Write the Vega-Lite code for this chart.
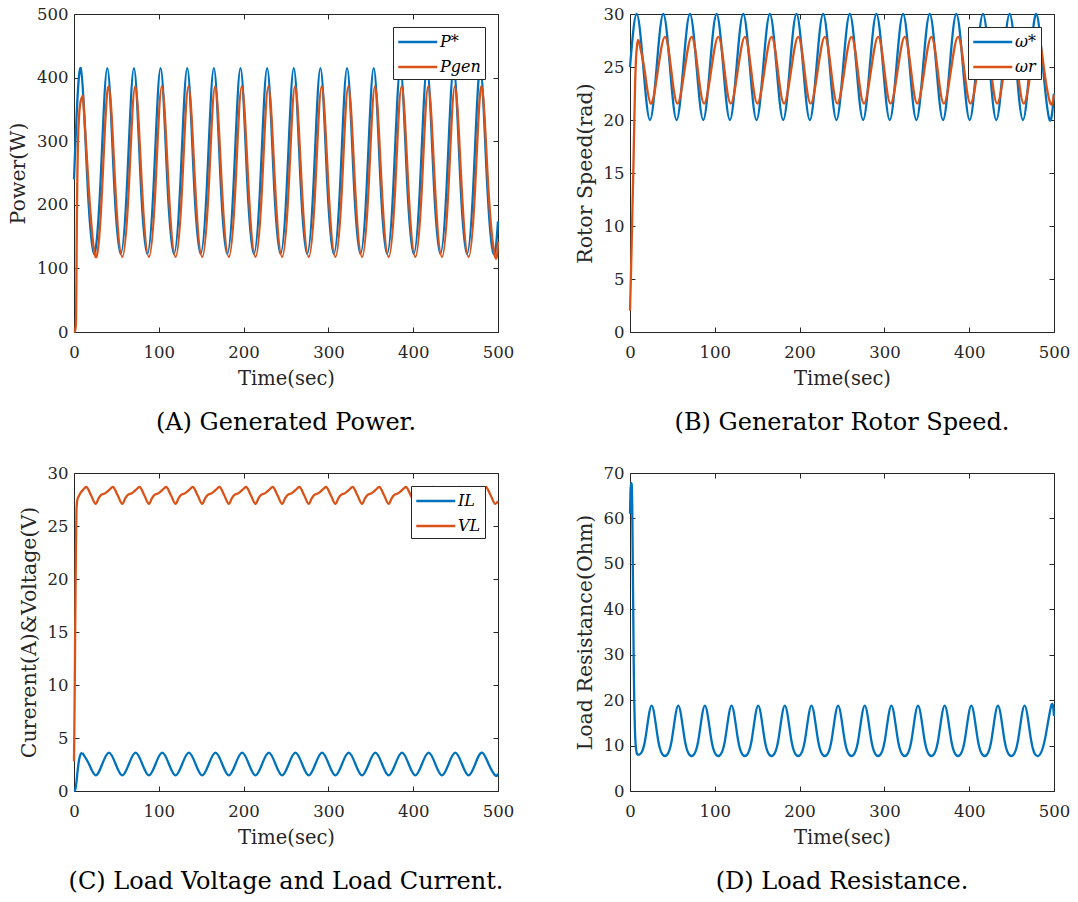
{
"$schema": "https://vega.github.io/schema/vega-lite/v6.json",
"padding": {"top": 6, "left": 8, "right": 4, "bottom": 5},
"datasets": {
"pstar": [{"t":0,"v":240},{"t":7.85,"v":415},{"t":15.71,"v":240},{"t":23.56,"v":123},{"t":31.42,"v":240},{"t":39.27,"v":415},{"t":47.12,"v":240},{"t":54.98,"v":123},{"t":62.83,"v":240},{"t":70.69,"v":415},{"t":78.54,"v":240},{"t":86.39,"v":123},{"t":94.25,"v":240},{"t":102.1,"v":415},{"t":109.96,"v":240},{"t":117.81,"v":123},{"t":125.66,"v":240},{"t":133.52,"v":415},{"t":141.37,"v":240},{"t":149.23,"v":123},{"t":157.08,"v":240},{"t":164.93,"v":415},{"t":172.79,"v":240},{"t":180.64,"v":123},{"t":188.5,"v":240},{"t":196.35,"v":415},{"t":204.2,"v":240},{"t":212.06,"v":123},{"t":219.91,"v":240},{"t":227.77,"v":415},{"t":235.62,"v":240},{"t":243.47,"v":123},{"t":251.33,"v":240},{"t":259.18,"v":415},{"t":267.04,"v":240},{"t":274.89,"v":123},{"t":282.74,"v":240},{"t":290.6,"v":415},{"t":298.45,"v":240},{"t":306.31,"v":123},{"t":314.16,"v":240},{"t":322.01,"v":415},{"t":329.87,"v":240},{"t":337.72,"v":123},{"t":345.58,"v":240},{"t":353.43,"v":415},{"t":361.28,"v":240},{"t":369.14,"v":123},{"t":376.99,"v":240},{"t":384.85,"v":415},{"t":392.7,"v":240},{"t":400.55,"v":123},{"t":408.41,"v":240},{"t":416.26,"v":415},{"t":424.12,"v":240},{"t":431.97,"v":123},{"t":439.82,"v":240},{"t":447.68,"v":415},{"t":455.53,"v":240},{"t":463.39,"v":123},{"t":471.24,"v":240},{"t":479.09,"v":415},{"t":486.95,"v":240},{"t":494.8,"v":123},{"t":500,"v":174}],
"pgen": [{"t":0,"v":0},{"t":1,"v":1},{"t":2,"v":8},{"t":2.6,"v":40},{"t":3,"v":110},{"t":3.5,"v":195},{"t":4,"v":250},{"t":4.7,"v":300},{"t":6,"v":340},{"t":8,"v":364},{"t":10.6,"v":372},{"t":17.43,"v":225},{"t":25.5,"v":118},{"t":33.14,"v":225},{"t":40.77,"v":386},{"t":48.85,"v":225},{"t":56.92,"v":118},{"t":64.56,"v":225},{"t":72.18,"v":386},{"t":80.26,"v":225},{"t":88.33,"v":118},{"t":95.97,"v":225},{"t":103.6,"v":386},{"t":111.68,"v":225},{"t":119.75,"v":118},{"t":127.39,"v":225},{"t":135.01,"v":386},{"t":143.09,"v":225},{"t":151.16,"v":118},{"t":158.8,"v":225},{"t":166.43,"v":386},{"t":174.51,"v":225},{"t":182.58,"v":118},{"t":190.22,"v":225},{"t":197.85,"v":386},{"t":205.93,"v":225},{"t":214.0,"v":118},{"t":221.64,"v":225},{"t":229.26,"v":386},{"t":237.34,"v":225},{"t":245.41,"v":118},{"t":253.05,"v":225},{"t":260.68,"v":386},{"t":268.76,"v":225},{"t":276.83,"v":118},{"t":284.47,"v":225},{"t":292.09,"v":386},{"t":300.17,"v":225},{"t":308.24,"v":118},{"t":315.88,"v":225},{"t":323.51,"v":386},{"t":331.59,"v":225},{"t":339.66,"v":118},{"t":347.3,"v":225},{"t":354.93,"v":386},{"t":363.01,"v":225},{"t":371.08,"v":118},{"t":378.72,"v":225},{"t":386.34,"v":386},{"t":394.42,"v":225},{"t":402.49,"v":118},{"t":410.13,"v":225},{"t":417.76,"v":386},{"t":425.84,"v":225},{"t":433.91,"v":118},{"t":441.55,"v":225},{"t":449.17,"v":386},{"t":457.25,"v":225},{"t":465.32,"v":118},{"t":472.96,"v":225},{"t":480.59,"v":386},{"t":488.67,"v":225},{"t":496.74,"v":118},{"t":500,"v":142}],
"wstar": [{"t":0,"v":25},{"t":7.85,"v":30},{"t":15.71,"v":25},{"t":23.56,"v":20},{"t":31.42,"v":25},{"t":39.27,"v":30},{"t":47.12,"v":25},{"t":54.98,"v":20},{"t":62.83,"v":25},{"t":70.69,"v":30},{"t":78.54,"v":25},{"t":86.39,"v":20},{"t":94.25,"v":25},{"t":102.1,"v":30},{"t":109.96,"v":25},{"t":117.81,"v":20},{"t":125.66,"v":25},{"t":133.52,"v":30},{"t":141.37,"v":25},{"t":149.23,"v":20},{"t":157.08,"v":25},{"t":164.93,"v":30},{"t":172.79,"v":25},{"t":180.64,"v":20},{"t":188.5,"v":25},{"t":196.35,"v":30},{"t":204.2,"v":25},{"t":212.06,"v":20},{"t":219.91,"v":25},{"t":227.77,"v":30},{"t":235.62,"v":25},{"t":243.47,"v":20},{"t":251.33,"v":25},{"t":259.18,"v":30},{"t":267.04,"v":25},{"t":274.89,"v":20},{"t":282.74,"v":25},{"t":290.6,"v":30},{"t":298.45,"v":25},{"t":306.31,"v":20},{"t":314.16,"v":25},{"t":322.01,"v":30},{"t":329.87,"v":25},{"t":337.72,"v":20},{"t":345.58,"v":25},{"t":353.43,"v":30},{"t":361.28,"v":25},{"t":369.14,"v":20},{"t":376.99,"v":25},{"t":384.85,"v":30},{"t":392.7,"v":25},{"t":400.55,"v":20},{"t":408.41,"v":25},{"t":416.26,"v":30},{"t":424.12,"v":25},{"t":431.97,"v":20},{"t":439.82,"v":25},{"t":447.68,"v":30},{"t":455.53,"v":25},{"t":463.39,"v":20},{"t":471.24,"v":25},{"t":479.09,"v":30},{"t":486.95,"v":25},{"t":494.8,"v":20},{"t":500,"v":22.5}],
"wr": [{"t":0,"v":2.0},{"t":1,"v":5.0},{"t":2,"v":8.5},{"t":3,"v":12.0},{"t":4,"v":15.5},{"t":5,"v":19.5},{"t":6,"v":23.3},{"t":7,"v":25.6},{"t":8,"v":26.8},{"t":9,"v":27.4},{"t":9.85,"v":27.6},{"t":17.21,"v":24.7},{"t":24.56,"v":21.55},{"t":32.91,"v":24.7},{"t":41.27,"v":27.85},{"t":48.63,"v":24.7},{"t":55.98,"v":21.55},{"t":64.33,"v":24.7},{"t":72.68,"v":27.85},{"t":80.04,"v":24.7},{"t":87.39,"v":21.55},{"t":95.74,"v":24.7},{"t":104.1,"v":27.85},{"t":111.46,"v":24.7},{"t":118.81,"v":21.55},{"t":127.16,"v":24.7},{"t":135.51,"v":27.85},{"t":142.87,"v":24.7},{"t":150.22,"v":21.55},{"t":158.57,"v":24.7},{"t":166.93,"v":27.85},{"t":174.29,"v":24.7},{"t":181.64,"v":21.55},{"t":189.99,"v":24.7},{"t":198.35,"v":27.85},{"t":205.71,"v":24.7},{"t":213.06,"v":21.55},{"t":221.41,"v":24.7},{"t":229.76,"v":27.85},{"t":237.12,"v":24.7},{"t":244.47,"v":21.55},{"t":252.82,"v":24.7},{"t":261.18,"v":27.85},{"t":268.54,"v":24.7},{"t":275.89,"v":21.55},{"t":284.24,"v":24.7},{"t":292.59,"v":27.85},{"t":299.95,"v":24.7},{"t":307.3,"v":21.55},{"t":315.65,"v":24.7},{"t":324.01,"v":27.85},{"t":331.37,"v":24.7},{"t":338.72,"v":21.55},{"t":347.07,"v":24.7},{"t":355.43,"v":27.85},{"t":362.79,"v":24.7},{"t":370.14,"v":21.55},{"t":378.49,"v":24.7},{"t":386.84,"v":27.85},{"t":394.2,"v":24.7},{"t":401.55,"v":21.55},{"t":409.9,"v":24.7},{"t":418.26,"v":27.85},{"t":425.62,"v":24.7},{"t":432.97,"v":21.55},{"t":441.32,"v":24.7},{"t":449.67,"v":27.85},{"t":457.03,"v":24.7},{"t":464.38,"v":21.55},{"t":472.73,"v":24.7},{"t":481.09,"v":27.85},{"t":488.45,"v":24.7},{"t":495.8,"v":21.55},{"t":500,"v":22.4}],
"il": [{"t":0,"v":0},{"t":1,"v":0.05},{"t":2,"v":0.3},{"t":3,"v":0.9},{"t":4,"v":1.7},{"t":5,"v":2.4},{"t":6,"v":2.95},{"t":7,"v":3.3},{"t":8,"v":3.5},{"t":9.8,"v":3.6},{"t":17.65,"v":2.55},{"t":25.5,"v":1.48},{"t":33.36,"v":2.55},{"t":41.22,"v":3.62},{"t":49.07,"v":2.55},{"t":56.92,"v":1.48},{"t":64.78,"v":2.55},{"t":72.63,"v":3.62},{"t":80.48,"v":2.55},{"t":88.33,"v":1.48},{"t":96.19,"v":2.55},{"t":104.05,"v":3.62},{"t":111.9,"v":2.55},{"t":119.75,"v":1.48},{"t":127.61,"v":2.55},{"t":135.46,"v":3.62},{"t":143.31,"v":2.55},{"t":151.16,"v":1.48},{"t":159.02,"v":2.55},{"t":166.88,"v":3.62},{"t":174.73,"v":2.55},{"t":182.58,"v":1.48},{"t":190.44,"v":2.55},{"t":198.3,"v":3.62},{"t":206.15,"v":2.55},{"t":214.0,"v":1.48},{"t":221.86,"v":2.55},{"t":229.71,"v":3.62},{"t":237.56,"v":2.55},{"t":245.41,"v":1.48},{"t":253.27,"v":2.55},{"t":261.13,"v":3.62},{"t":268.98,"v":2.55},{"t":276.83,"v":1.48},{"t":284.69,"v":2.55},{"t":292.54,"v":3.62},{"t":300.39,"v":2.55},{"t":308.24,"v":1.48},{"t":316.1,"v":2.55},{"t":323.96,"v":3.62},{"t":331.81,"v":2.55},{"t":339.66,"v":1.48},{"t":347.52,"v":2.55},{"t":355.38,"v":3.62},{"t":363.23,"v":2.55},{"t":371.08,"v":1.48},{"t":378.94,"v":2.55},{"t":386.79,"v":3.62},{"t":394.64,"v":2.55},{"t":402.49,"v":1.48},{"t":410.35,"v":2.55},{"t":418.21,"v":3.62},{"t":426.06,"v":2.55},{"t":433.91,"v":1.48},{"t":441.77,"v":2.55},{"t":449.62,"v":3.62},{"t":457.47,"v":2.55},{"t":465.32,"v":1.48},{"t":473.18,"v":2.55},{"t":481.04,"v":3.62},{"t":488.89,"v":2.55},{"t":496.74,"v":1.48},{"t":500,"v":1.65}],
"vl": [{"t":0,"v":2.8},{"t":0.5,"v":6.5},{"t":1,"v":11},{"t":1.5,"v":16},{"t":2,"v":20.5},{"t":2.5,"v":24.3},{"t":3,"v":26.6},{"t":4,"v":27.5},{"t":5.9,"v":27.85},{"t":7.9,"v":28.15},{"t":11,"v":28.45},{"t":14.5,"v":28.68},{"t":20.1,"v":27.9},
{"t":25.6,"v":27.08},{"t":29.0,"v":27.6},{"t":32.5,"v":27.95},{"t":37.0,"v":28.1},{"t":41.5,"v":28.4},{"t":45.9,"v":28.68},{"t":51.5,"v":27.9},
{"t":57.02,"v":27.08},{"t":60.42,"v":27.6},{"t":63.92,"v":27.95},{"t":68.42,"v":28.1},{"t":72.92,"v":28.4},{"t":77.32,"v":28.68},{"t":82.92,"v":27.9},
{"t":88.43,"v":27.08},{"t":91.83,"v":27.6},{"t":95.33,"v":27.95},{"t":99.83,"v":28.1},{"t":104.33,"v":28.4},{"t":108.73,"v":28.68},{"t":114.33,"v":27.9},
{"t":119.85,"v":27.08},{"t":123.25,"v":27.6},{"t":126.75,"v":27.95},{"t":131.25,"v":28.1},{"t":135.75,"v":28.4},{"t":140.15,"v":28.68},{"t":145.75,"v":27.9},
{"t":151.26,"v":27.08},{"t":154.66,"v":27.6},{"t":158.16,"v":27.95},{"t":162.66,"v":28.1},{"t":167.16,"v":28.4},{"t":171.56,"v":28.68},{"t":177.16,"v":27.9},
{"t":182.68,"v":27.08},{"t":186.08,"v":27.6},{"t":189.58,"v":27.95},{"t":194.08,"v":28.1},{"t":198.58,"v":28.4},{"t":202.98,"v":28.68},{"t":208.58,"v":27.9},
{"t":214.1,"v":27.08},{"t":217.5,"v":27.6},{"t":221.0,"v":27.95},{"t":225.5,"v":28.1},{"t":230.0,"v":28.4},{"t":234.4,"v":28.68},{"t":240.0,"v":27.9},
{"t":245.51,"v":27.08},{"t":248.91,"v":27.6},{"t":252.41,"v":27.95},{"t":256.91,"v":28.1},{"t":261.41,"v":28.4},{"t":265.81,"v":28.68},{"t":271.41,"v":27.9},
{"t":276.93,"v":27.08},{"t":280.33,"v":27.6},{"t":283.83,"v":27.95},{"t":288.33,"v":28.1},{"t":292.83,"v":28.4},{"t":297.23,"v":28.68},{"t":302.83,"v":27.9},
{"t":308.34,"v":27.08},{"t":311.74,"v":27.6},{"t":315.24,"v":27.95},{"t":319.74,"v":28.1},{"t":324.24,"v":28.4},{"t":328.64,"v":28.68},{"t":334.24,"v":27.9},
{"t":339.76,"v":27.08},{"t":343.16,"v":27.6},{"t":346.66,"v":27.95},{"t":351.16,"v":28.1},{"t":355.66,"v":28.4},{"t":360.06,"v":28.68},{"t":365.66,"v":27.9},
{"t":371.18,"v":27.08},{"t":374.58,"v":27.6},{"t":378.08,"v":27.95},{"t":382.58,"v":28.1},{"t":387.08,"v":28.4},{"t":391.48,"v":28.68},{"t":397.08,"v":27.9},
{"t":402.59,"v":27.08},{"t":405.99,"v":27.6},{"t":409.49,"v":27.95},{"t":413.99,"v":28.1},{"t":418.49,"v":28.4},{"t":422.89,"v":28.68},{"t":428.49,"v":27.9},
{"t":434.01,"v":27.08},{"t":437.41,"v":27.6},{"t":440.91,"v":27.95},{"t":445.41,"v":28.1},{"t":449.91,"v":28.4},{"t":454.31,"v":28.68},{"t":459.91,"v":27.9},
{"t":465.42,"v":27.08},{"t":468.82,"v":27.6},{"t":472.32,"v":27.95},{"t":476.82,"v":28.1},{"t":481.32,"v":28.4},{"t":485.72,"v":28.68},{"t":491.32,"v":27.9},
{"t":496.84,"v":27.08},{"t":500,"v":27.35}],
"rl": [{"t":0,"v":61},{"t":0.5,"v":65.5},{"t":1.2,"v":67.8},{"t":2.0,"v":67.5},{"t":2.6,"v":63},{"t":3.2,"v":52},{"t":3.8,"v":40},{"t":4.4,"v":28},{"t":5.0,"v":20},{"t":5.8,"v":13.5},{"t":7.0,"v":9.5},{"t":8.5,"v":8.1},{"t":9.8,"v":7.9},{"t":17.65,"v":11.0},{"t":25.5,"v":18.8},{"t":33.36,"v":11.0},{"t":41.22,"v":7.7},{"t":49.07,"v":11.0},{"t":56.92,"v":18.8},{"t":64.78,"v":11.0},{"t":72.63,"v":7.7},{"t":80.48,"v":11.0},{"t":88.33,"v":18.8},{"t":96.19,"v":11.0},{"t":104.05,"v":7.7},{"t":111.9,"v":11.0},{"t":119.75,"v":18.8},{"t":127.61,"v":11.0},{"t":135.46,"v":7.7},{"t":143.31,"v":11.0},{"t":151.16,"v":18.8},{"t":159.02,"v":11.0},{"t":166.88,"v":7.7},{"t":174.73,"v":11.0},{"t":182.58,"v":18.8},{"t":190.44,"v":11.0},{"t":198.3,"v":7.7},{"t":206.15,"v":11.0},{"t":214.0,"v":18.8},{"t":221.86,"v":11.0},{"t":229.71,"v":7.7},{"t":237.56,"v":11.0},{"t":245.41,"v":18.8},{"t":253.27,"v":11.0},{"t":261.13,"v":7.7},{"t":268.98,"v":11.0},{"t":276.83,"v":18.8},{"t":284.69,"v":11.0},{"t":292.54,"v":7.7},{"t":300.39,"v":11.0},{"t":308.24,"v":18.8},{"t":316.1,"v":11.0},{"t":323.96,"v":7.7},{"t":331.81,"v":11.0},{"t":339.66,"v":18.8},{"t":347.52,"v":11.0},{"t":355.38,"v":7.7},{"t":363.23,"v":11.0},{"t":371.08,"v":18.8},{"t":378.94,"v":11.0},{"t":386.79,"v":7.7},{"t":394.64,"v":11.0},{"t":402.49,"v":18.8},{"t":410.35,"v":11.0},{"t":418.21,"v":7.7},{"t":426.06,"v":11.0},{"t":433.91,"v":18.8},{"t":441.77,"v":11.0},{"t":449.62,"v":7.7},{"t":457.47,"v":11.0},{"t":465.32,"v":18.8},{"t":473.18,"v":11.0},{"t":481.04,"v":7.7},{"t":488.89,"v":11.0},{"t":496.74,"v":18.8},{"t":500,"v":16.5}]
},
"columns": 2,
"spacing": {"column": 61, "row": 30},
"resolve": {"scale": {"x": "independent", "y": "independent", "color": "independent"}, "axis": {"x": "independent", "y": "independent"}, "legend": {"color": "independent"}},
"concat": [
{
 "width": 424, "height": 318,
 "title": {"text": "(A) Generated Power.", "orient": "bottom"},
 "layer": [
  {"layer": [
   {"data": {"name": "pstar"}, "mark": {"type": "line", "interpolate": "natural", "strokeWidth": 2.3},
    "encoding": {"x": {"field": "t", "type": "quantitative", "scale": {"domain": [0, 500], "nice": false, "padding": 0}, "axis": {"values": [0,100,200,300,400,500], "title": "Time(sec)"}},
     "y": {"field": "v", "type": "quantitative", "scale": {"domain": [0, 500], "nice": false, "padding": 0}, "axis": {"values": [0,100,200,300,400,500], "title": "Power(W)"}},
     "color": {"datum": "P*", "scale": {"domain": ["P*", "Pgen"], "range": ["#0072BD", "#D95319"]}, "legend": {"title": null}}}},
   {"data": {"name": "pgen"}, "transform": [{"filter": "datum.t <= 10.6"}], "mark": {"type": "line", "interpolate": "monotone", "strokeWidth": 2.3},
    "encoding": {"x": {"field": "t", "type": "quantitative"}, "y": {"field": "v", "type": "quantitative"}, "color": {"datum": "Pgen"}}},
   {"data": {"name": "pgen"}, "transform": [{"filter": "datum.t >= 10.6"}], "mark": {"type": "line", "interpolate": "natural", "strokeWidth": 2.3},
    "encoding": {"x": {"field": "t", "type": "quantitative"}, "y": {"field": "v", "type": "quantitative"}, "color": {"datum": "Pgen"}}}
  ]},
  {"data": {"name": "pstar"}, "mark": {"type": "line", "strokeOpacity": 0},
   "encoding": {"x": {"field": "t", "type": "quantitative", "axis": {"orient": "top", "values": [0,100,200,300,400,500], "labels": false, "title": null}},
    "y": {"field": "v", "type": "quantitative", "axis": {"orient": "right", "values": [0,100,200,300,400,500], "labels": false, "title": null}}}}
 ],
 "resolve": {"axis": {"x": "independent", "y": "independent"}}
},
{
 "width": 424, "height": 318,
 "title": {"text": "(B) Generator Rotor Speed.", "orient": "bottom"},
 "layer": [
  {"layer": [
   {"data": {"name": "wstar"}, "mark": {"type": "line", "interpolate": "natural", "strokeWidth": 2.3},
    "encoding": {"x": {"field": "t", "type": "quantitative", "scale": {"domain": [0, 500], "nice": false, "padding": 0}, "axis": {"values": [0,100,200,300,400,500], "title": "Time(sec)"}},
     "y": {"field": "v", "type": "quantitative", "scale": {"domain": [0, 30], "nice": false, "padding": 0}, "axis": {"values": [0,5,10,15,20,25,30], "title": "Rotor Speed(rad)"}},
     "color": {"datum": "ω*", "scale": {"domain": ["ω*", "ωr"], "range": ["#0072BD", "#D95319"]}, "legend": {"title": null}}}},
   {"data": {"name": "wr"}, "transform": [{"filter": "datum.t <= 9.85"}], "mark": {"type": "line", "interpolate": "monotone", "strokeWidth": 2.3},
    "encoding": {"x": {"field": "t", "type": "quantitative"}, "y": {"field": "v", "type": "quantitative"}, "color": {"datum": "ωr"}}},
   {"data": {"name": "wr"}, "transform": [{"filter": "datum.t >= 9.85"}], "mark": {"type": "line", "interpolate": "natural", "strokeWidth": 2.3},
    "encoding": {"x": {"field": "t", "type": "quantitative"}, "y": {"field": "v", "type": "quantitative"}, "color": {"datum": "ωr"}}}
  ]},
  {"data": {"name": "wstar"}, "mark": {"type": "line", "strokeOpacity": 0},
   "encoding": {"x": {"field": "t", "type": "quantitative", "axis": {"orient": "top", "values": [0,100,200,300,400,500], "labels": false, "title": null}},
    "y": {"field": "v", "type": "quantitative", "axis": {"orient": "right", "values": [0,5,10,15,20,25,30], "labels": false, "title": null}}}}
 ],
 "resolve": {"axis": {"x": "independent", "y": "independent"}}
},
{
 "width": 424, "height": 318,
 "title": {"text": "(C) Load Voltage and Load Current.", "orient": "bottom"},
 "layer": [
  {"layer": [
   {"data": {"name": "il"}, "transform": [{"filter": "datum.t <= 9.8"}], "mark": {"type": "line", "interpolate": "monotone", "strokeWidth": 2.3},
    "encoding": {"x": {"field": "t", "type": "quantitative", "scale": {"domain": [0, 500], "nice": false, "padding": 0}, "axis": {"values": [0,100,200,300,400,500], "title": "Time(sec)"}},
     "y": {"field": "v", "type": "quantitative", "scale": {"domain": [0, 30], "nice": false, "padding": 0}, "axis": {"values": [0,5,10,15,20,25,30], "title": "Curerent(A)&Voltage(V)"}},
     "color": {"datum": "IL", "scale": {"domain": ["IL", "VL"], "range": ["#0072BD", "#D95319"]}, "legend": {"title": null}}}},
   {"data": {"name": "il"}, "transform": [{"filter": "datum.t >= 9.8"}], "mark": {"type": "line", "interpolate": "natural", "strokeWidth": 2.3},
    "encoding": {"x": {"field": "t", "type": "quantitative"}, "y": {"field": "v", "type": "quantitative"}, "color": {"datum": "IL"}}},
   {"data": {"name": "vl"}, "mark": {"type": "line", "interpolate": "monotone", "strokeWidth": 2.3},
    "encoding": {"x": {"field": "t", "type": "quantitative"}, "y": {"field": "v", "type": "quantitative"}, "color": {"datum": "VL"}}}
  ]},
  {"data": {"name": "il"}, "mark": {"type": "line", "strokeOpacity": 0},
   "encoding": {"x": {"field": "t", "type": "quantitative", "axis": {"orient": "top", "values": [0,100,200,300,400,500], "labels": false, "title": null}},
    "y": {"field": "v", "type": "quantitative", "axis": {"orient": "right", "values": [0,5,10,15,20,25,30], "labels": false, "title": null}}}}
 ],
 "resolve": {"axis": {"x": "independent", "y": "independent"}}
},
{
 "width": 424, "height": 318,
 "title": {"text": "(D) Load Resistance.", "orient": "bottom"},
 "layer": [
  {"layer": [
   {"data": {"name": "rl"}, "transform": [{"filter": "datum.t <= 9.8"}], "mark": {"type": "line", "interpolate": "monotone", "strokeWidth": 2.3},
    "encoding": {"x": {"field": "t", "type": "quantitative", "scale": {"domain": [0, 500], "nice": false, "padding": 0}, "axis": {"values": [0,100,200,300,400,500], "title": "Time(sec)"}},
     "y": {"field": "v", "type": "quantitative", "scale": {"domain": [0, 70], "nice": false, "padding": 0}, "axis": {"values": [0,10,20,30,40,50,60,70], "title": "Load Resistance(Ohm)"}},
     "color": {"datum": "RL", "scale": {"domain": ["RL"], "range": ["#0072BD"]}, "legend": null}}},
   {"data": {"name": "rl"}, "transform": [{"filter": "datum.t >= 9.8"}], "mark": {"type": "line", "interpolate": "natural", "strokeWidth": 2.3},
    "encoding": {"x": {"field": "t", "type": "quantitative"}, "y": {"field": "v", "type": "quantitative"}, "color": {"datum": "RL"}}}
  ]},
  {"data": {"name": "rl"}, "mark": {"type": "line", "strokeOpacity": 0},
   "encoding": {"x": {"field": "t", "type": "quantitative", "axis": {"orient": "top", "values": [0,100,200,300,400,500], "labels": false, "title": null}},
    "y": {"field": "v", "type": "quantitative", "axis": {"orient": "right", "values": [0,10,20,30,40,50,60,70], "labels": false, "title": null}}}}
 ],
 "resolve": {"axis": {"x": "independent", "y": "independent"}}
}
],
"config": {
 "font": "DejaVu Serif",
 "view": {"stroke": null},
 "axis": {"grid": false, "labelFlush": false, "domainColor": "#262626", "tickColor": "#262626", "labelColor": "#262626", "titleColor": "#262626", "labelFont": "DejaVu Serif", "titleFont": "DejaVu Serif", "labelFontSize": 16.5, "titleFontSize": 20, "titleFontWeight": "normal", "tickSize": -5, "domainWidth": 1, "tickWidth": 1},
 "axisX": {"labelPadding": 17, "titlePadding": 9, "titleFontSize": 19.5, "labelFlush": false},
 "axisY": {"labelPadding": 11, "titlePadding": 8, "titleFontSize": 20.5},
 "legend": {"orient": "top-right", "offset": 13, "strokeColor": "#262626", "fillColor": "white", "padding": 4, "symbolType": "M-1,0H3", "symbolSize": 380, "symbolStrokeWidth": 2.5, "labelOffset": 21, "labelFont": "DejaVu Serif", "labelFontStyle": "italic", "labelFontSize": 16, "labelColor": "#000", "rowPadding": 6, "cornerRadius": 0},
 "title": {"font": "DejaVu Serif", "fontSize": 24, "fontWeight": "normal", "color": "#000", "offset": 23}
}
}
